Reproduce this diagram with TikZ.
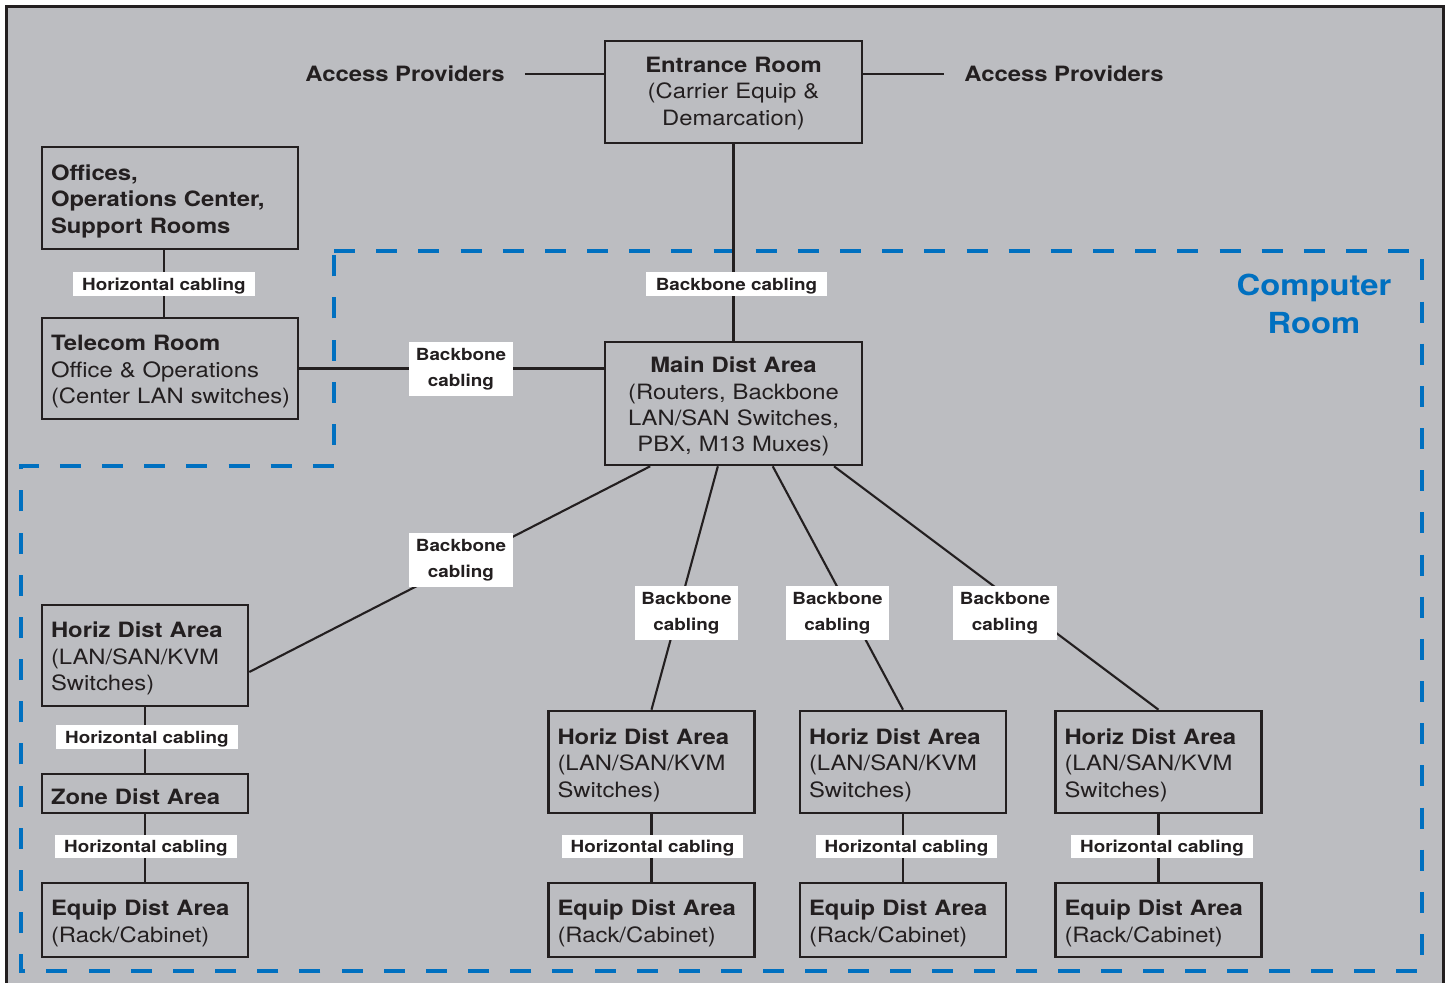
\documentclass[tikz,border=0pt]{standalone}
\usepackage{fontspec}
\setmainfont{TeX Gyre Heros}[FakeStretch=1.13]
\usepackage{tikz}
\usetikzlibrary{positioning}
\definecolor{bggray}{RGB}{188,189,193}
\definecolor{ink}{RGB}{35,31,32}
\definecolor{roomblue}{RGB}{0,112,192}

\begin{document}
\begin{tikzpicture}[x=0.02cm, y=-0.02cm,
	box/.style={draw=ink, line width=1.5pt, text=ink, inner xsep=0.18cm, inner ysep=0pt, font=\fontsize{12}{15}\selectfont, execute at begin node={\rule{0pt}{12.6pt}}},
	lbox/.style={box, align=left},
	cbox/.style={box, align=center},
	cable/.style={draw=ink, line width=1.2pt},
	cablab/.style={fill=white, text=ink, inner sep=0pt, align=center, font=\bfseries\fontsize{9.5}{15}\selectfont, execute at begin node={\rule{0pt}{9pt}}},
	onelab/.style={cablab, minimum width=3.64cm, minimum height=0.47cm},
	twolab/.style={cablab, minimum width=2.08cm, minimum height=1.08cm, execute at begin node={\rule{0pt}{11pt}}}]
	\useasboundingbox (0,0) rectangle (1451,983);
	\clip (0,0) rectangle (1451,983);
	\draw [fill=bggray, draw=ink, line width=1.7pt] (6.5,6.5) rectangle (1443,1000);
	%% computer room outline
	\draw [roomblue, line width=2.8pt, dash pattern=on 12pt off 12pt] (334,251) -- (1422,251) -- (1422,971) -- (21,971) -- (21,466) -- (334,466) -- cycle;
	\node[roomblue, align=center, font=\bfseries\fontsize{16.5}{22}\selectfont] (croom) at (1314,304) {Computer\\Room};

	%% rooms and areas
	\node[cbox, text width=4.78cm, minimum height=2.04cm, execute at begin node={}, execute at end node={\rule[-5pt]{0pt}{0pt}}] (entr) at (733.5,92) {\textbf{Entrance Room}\\(Carrier Equip \&\\Demarcation)};
	\node[lbox, text width=4.76cm, minimum height=2.04cm] (offc) at (170,198) {\textbf{Offices,}\\\textbf{Operations Center,}\\\textbf{Support Rooms}};
	\node[lbox, text width=4.76cm, minimum height=2.02cm] (tr) at (170,368.5) {\textbf{Telecom Room}\\Office \& Operations\\(Center~LAN~switches)};
	\node[cbox, text width=4.78cm, minimum height=2.46cm] (mda) at (733.5,403.5) {\textbf{Main Dist Area}\\(Routers, Backbone\\LAN/SAN Switches,\\PBX, M13 Muxes)};

	\node[lbox, text width=3.76cm, minimum height=2.02cm] (hda1) at (145,655.5) {\textbf{Horiz Dist Area}\\(LAN/SAN/KVM\\Switches)};
	\node[lbox, text width=3.76cm, minimum height=0.78cm] (zda) at (145,793.5) {\textbf{Zone Dist Area}};
	\node[lbox, text width=3.76cm, minimum height=1.48cm] (eda1) at (145,920) {\textbf{Equip Dist Area}\\(Rack/Cabinet)};
	\node[lbox, text width=3.76cm, minimum height=2.04cm] (hda2) at (651.5,762) {\textbf{Horiz Dist Area}\\(LAN/SAN/KVM\\Switches)};
	\node[lbox, text width=3.76cm, minimum height=2.04cm] (hda3) at (903,762) {\textbf{Horiz Dist Area}\\(LAN/SAN/KVM\\Switches)};
	\node[lbox, text width=3.76cm, minimum height=2.04cm] (hda4) at (1158.5,762) {\textbf{Horiz Dist Area}\\(LAN/SAN/KVM\\Switches)};
	\node[lbox, text width=3.76cm, minimum height=1.48cm] (eda2) at (651.5,920) {\textbf{Equip Dist Area}\\(Rack/Cabinet)};
	\node[lbox, text width=3.76cm, minimum height=1.48cm] (eda3) at (903,920) {\textbf{Equip Dist Area}\\(Rack/Cabinet)};
	\node[lbox, text width=3.76cm, minimum height=1.48cm] (eda4) at (1158.5,920) {\textbf{Equip Dist Area}\\(Rack/Cabinet)};

	%% access providers
	\node[text=ink, inner xsep=0.4cm, font=\bfseries\fontsize{12}{15}\selectfont] (apl) at (405,74) {Access Providers};
	\node[text=ink, inner xsep=0.4cm, font=\bfseries\fontsize{12}{15}\selectfont] (apr) at (1064,74) {Access Providers};
	\draw [cable] (apl.east) -- (apl.east -| entr.west);
	\draw [cable] (entr.east |- apr.west) -- (apr.west);

	%% cabling
	\draw [cable] (entr) -- (mda);
	\draw [cable] ([xshift=-0.12cm]offc.south) -- ([xshift=-0.12cm]tr.north);
	\draw [cable] (tr.east) -- (tr.east -| mda.west);
	\draw [cable] (mda.-143) -- (hda1.-9);
	\draw [cable] (mda.-104) -- (hda2.north);
	\draw [cable] (mda.-58) -- (hda3.north);
	\draw [cable] (mda.-32) -- (hda4.north);
	\draw [cable] (hda1) -- (zda);
	\draw [cable] (zda) -- (eda1);
	\draw [cable] (hda2) -- (eda2);
	\draw [cable] (hda3) -- (eda3);
	\draw [cable] (hda4) -- (eda4);

	\node[onelab] (bbt) at (736.5,284) {Backbone cabling};
	\node[onelab] (hc0) at (164,284) {Horizontal cabling};
	\node[twolab] (bb0) at (461,369) {Backbone\\cabling};
	\node[twolab] (bb1) at (461,560) {Backbone\\cabling};
	\node[twolab] (bb2) at (686.5,613) {Backbone\\cabling};
	\node[twolab] (bb3) at (837.5,613) {Backbone\\cabling};
	\node[twolab] (bb4) at (1005,613) {Backbone\\cabling};
	\node[onelab] (hc1) at (147,737) {Horizontal cabling};
	\node[onelab] (hc2) at (146,846.5) {Horizontal cabling};
	\node[onelab] (hc3) at (652.5,846.5) {Horizontal cabling};
	\node[onelab] (hc4) at (906.5,846.5) {Horizontal cabling};
	\node[onelab] (hc5) at (1162,846.5) {Horizontal cabling};
\end{tikzpicture}
\end{document}
